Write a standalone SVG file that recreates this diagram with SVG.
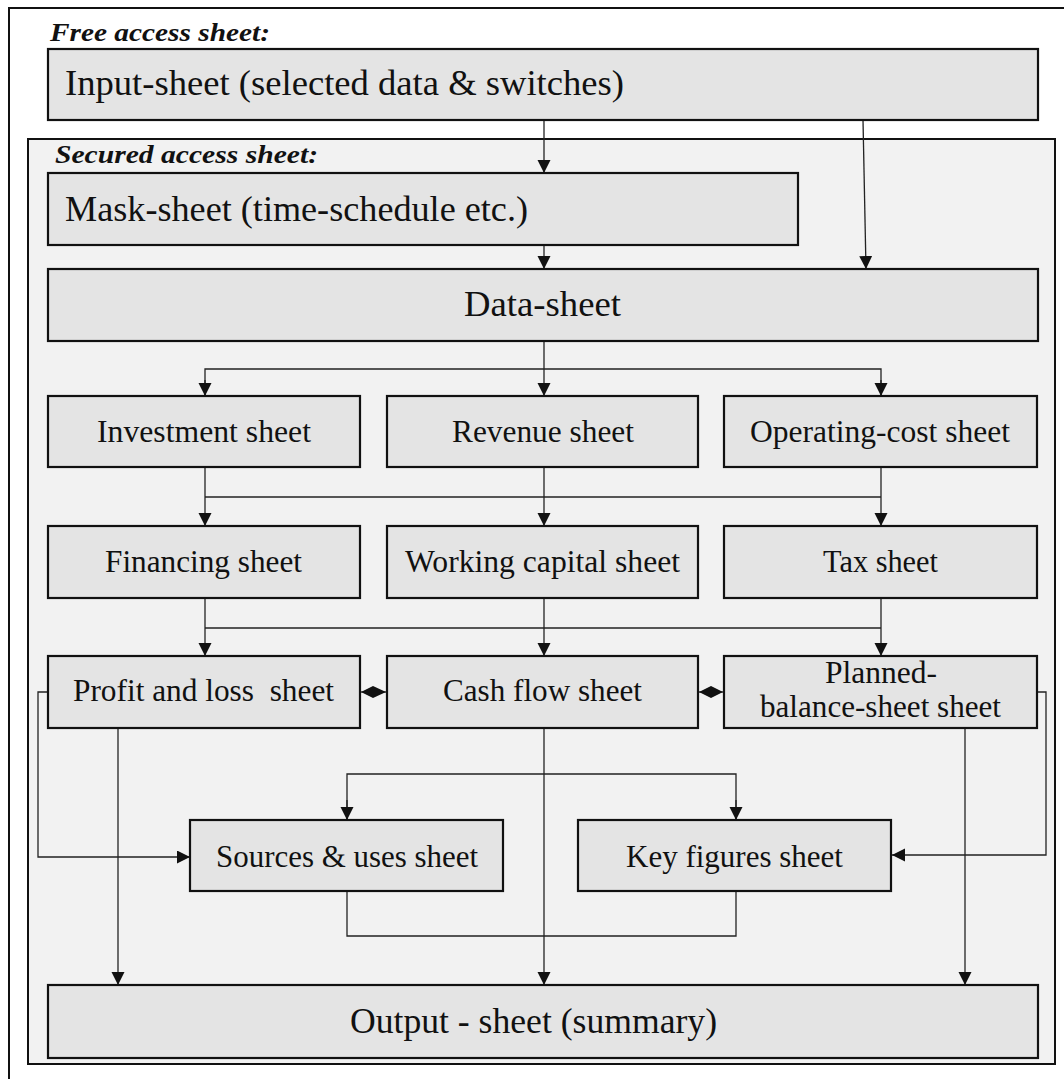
<svg xmlns="http://www.w3.org/2000/svg" width="1064" height="1079" viewBox="0 0 1064 1079">
  <style>
    .frame { fill: none; stroke: #111; stroke-width: 2; }
    .area { fill: #f2f2f2; stroke: #111; stroke-width: 2; }
    .box { fill: #e4e4e4; stroke: #111; stroke-width: 2.2; }
    .lbl { font-family: "Liberation Serif", "DejaVu Serif", serif; fill: #111; text-anchor: middle; }
    .big { font-size: 35px; }
    .mid { font-size: 31px; }
    .cap { font-family: "Liberation Serif", "DejaVu Serif", serif; font-size: 26px; font-style: italic; font-weight: bold; fill: #111; }
    .wire { fill: none; stroke: #222; stroke-width: 1.3; }
    .dia { fill: #111; }
  </style>
  <defs>
    <marker id="arrow" markerUnits="userSpaceOnUse" markerWidth="14" markerHeight="14" refX="13" refY="6.5" orient="auto">
      <path d="M0,0 L13,6.5 L0,13 z" fill="#111"/>
    </marker>
  </defs>

  <rect width="1064" height="1079" fill="#ffffff"/>

  <!-- outer sheet frame (runs off the page on right and bottom) -->
  <path class="frame" d="M9,1080 V8 H1066"/>

  <!-- secured area -->
  <rect class="area" x="28" y="139" width="1027" height="925"/>

  <text class="cap" x="50" y="41" textLength="220" lengthAdjust="spacingAndGlyphs">Free access sheet:</text>
  <text class="cap" x="55" y="163" textLength="263" lengthAdjust="spacingAndGlyphs">Secured access sheet:</text>

  <!-- connectors -->
  <g id="connectors">
    <line class="wire" x1="544" y1="120" x2="544" y2="173" marker-end="url(#arrow)"/>
    <line class="wire" x1="863" y1="120" x2="866" y2="269" marker-end="url(#arrow)"/>
    <line class="wire" x1="544" y1="245" x2="544" y2="269" marker-end="url(#arrow)"/>

    <!-- data sheet fan-out -->
    <line class="wire" x1="544" y1="341" x2="544" y2="396" marker-end="url(#arrow)"/>
    <path class="wire" d="M205,396 V369 H881 V396" />
    <line class="wire" x1="205" y1="380" x2="205" y2="396" marker-end="url(#arrow)"/>
    <line class="wire" x1="881" y1="380" x2="881" y2="396" marker-end="url(#arrow)"/>

    <!-- row 1 to row 2 -->
    <line class="wire" x1="205" y1="467" x2="205" y2="526" marker-end="url(#arrow)"/>
    <line class="wire" x1="544" y1="467" x2="544" y2="526" marker-end="url(#arrow)"/>
    <line class="wire" x1="881" y1="467" x2="881" y2="526" marker-end="url(#arrow)"/>
    <line class="wire" x1="205" y1="497" x2="881" y2="497"/>

    <!-- row 2 to row 3 -->
    <line class="wire" x1="205" y1="598" x2="205" y2="656" marker-end="url(#arrow)"/>
    <line class="wire" x1="544" y1="598" x2="544" y2="656" marker-end="url(#arrow)"/>
    <line class="wire" x1="881" y1="598" x2="881" y2="656" marker-end="url(#arrow)"/>
    <line class="wire" x1="205" y1="628" x2="881" y2="628"/>

    <!-- two-way links in row 3 -->
    <line class="wire" x1="360" y1="692" x2="387" y2="692"/>
    <polygon class="dia" points="361,692 373,686 386,692 373,698"/>
    <line class="wire" x1="698" y1="692" x2="724" y2="692"/>
    <polygon class="dia" points="699,692 711,686 723,692 711,698"/>

    <!-- cash flow fan-out -->
    <line class="wire" x1="544" y1="728" x2="544" y2="985" marker-end="url(#arrow)"/>
    <path class="wire" d="M347,820 V774 H736 V820"/>
    <line class="wire" x1="347" y1="800" x2="347" y2="820" marker-end="url(#arrow)"/>
    <line class="wire" x1="736" y1="800" x2="736" y2="820" marker-end="url(#arrow)"/>

    <!-- profit and loss -->
    <path class="wire" d="M48,692 H38 V857 H190" marker-end="url(#arrow)"/>
    <line class="wire" x1="118" y1="728" x2="118" y2="985" marker-end="url(#arrow)"/>

    <!-- planned balance sheet -->
    <path class="wire" d="M1037,692 H1046 V855 H892" marker-end="url(#arrow)"/>
    <line class="wire" x1="965" y1="728" x2="965" y2="985" marker-end="url(#arrow)"/>

    <!-- sources/uses and key figures joined -->
    <path class="wire" d="M347,891 V936 H736 V891"/>
  </g>

  <g id="input-sheet">
    <rect class="box" x="48" y="49" width="990" height="71"/>
    <text class="lbl big" x="344.5" y="95" textLength="559" lengthAdjust="spacingAndGlyphs">Input-sheet (selected data &amp; switches)</text>
  </g>

  <g id="mask-sheet">
    <rect class="box" x="48" y="173" width="750" height="72"/>
    <text class="lbl big" x="296.5" y="221" textLength="463" lengthAdjust="spacingAndGlyphs">Mask-sheet (time-schedule etc.)</text>
  </g>

  <g id="data-sheet">
    <rect class="box" x="48" y="269" width="990" height="72"/>
    <text class="lbl big" x="542.5" y="316" textLength="157" lengthAdjust="spacingAndGlyphs">Data-sheet</text>
  </g>

  <g id="investment-sheet">
    <rect class="box" x="48" y="396" width="312" height="71"/>
    <text class="lbl mid" x="204" y="442" textLength="214" lengthAdjust="spacingAndGlyphs">Investment sheet</text>
  </g>

  <g id="revenue-sheet">
    <rect class="box" x="387" y="396" width="311" height="71"/>
    <text class="lbl mid" x="543" y="442" textLength="182" lengthAdjust="spacingAndGlyphs">Revenue sheet</text>
  </g>

  <g id="operating-cost-sheet">
    <rect class="box" x="724" y="396" width="313" height="71"/>
    <text class="lbl mid" x="880" y="442" textLength="260" lengthAdjust="spacingAndGlyphs">Operating-cost sheet</text>
  </g>

  <g id="financing-sheet">
    <rect class="box" x="48" y="526" width="312" height="72"/>
    <text class="lbl mid" x="203.5" y="572" textLength="197" lengthAdjust="spacingAndGlyphs">Financing sheet</text>
  </g>

  <g id="working-capital-sheet">
    <rect class="box" x="387" y="526" width="311" height="72"/>
    <text class="lbl mid" x="542.5" y="572" textLength="275" lengthAdjust="spacingAndGlyphs">Working capital sheet</text>
  </g>

  <g id="tax-sheet">
    <rect class="box" x="724" y="526" width="313" height="72"/>
    <text class="lbl mid" x="880.5" y="572" textLength="115" lengthAdjust="spacingAndGlyphs">Tax sheet</text>
  </g>

  <g id="profit-and-loss-sheet">
    <rect class="box" x="48" y="656" width="312" height="72"/>
    <text class="lbl mid" x="203.5" y="701" textLength="261" lengthAdjust="spacingAndGlyphs" xml:space="preserve" style="white-space:pre">Profit and loss  sheet</text>
  </g>

  <g id="cash-flow-sheet">
    <rect class="box" x="387" y="656" width="311" height="72"/>
    <text class="lbl mid" x="542.5" y="701" textLength="199" lengthAdjust="spacingAndGlyphs">Cash flow sheet</text>
  </g>

  <g id="planned-balance-sheet">
    <rect class="box" x="724" y="656" width="313" height="72"/>
    <text class="lbl mid" x="881" y="683" textLength="112" lengthAdjust="spacingAndGlyphs">Planned-</text>
    <text class="lbl mid" x="880.5" y="717" textLength="241" lengthAdjust="spacingAndGlyphs">balance-sheet sheet</text>
  </g>

  <g id="sources-uses-sheet">
    <rect class="box" x="190" y="820" width="313" height="71"/>
    <text class="lbl mid" x="347" y="867" textLength="262" lengthAdjust="spacingAndGlyphs">Sources &amp; uses sheet</text>
  </g>

  <g id="key-figures-sheet">
    <rect class="box" x="578" y="820" width="313" height="71"/>
    <text class="lbl mid" x="734.5" y="867" textLength="217" lengthAdjust="spacingAndGlyphs">Key figures sheet</text>
  </g>

  <g id="output-sheet">
    <rect class="box" x="48" y="985" width="990" height="73"/>
    <text class="lbl big" x="533.5" y="1033" textLength="367" lengthAdjust="spacingAndGlyphs">Output - sheet (summary)</text>
  </g>
</svg>
